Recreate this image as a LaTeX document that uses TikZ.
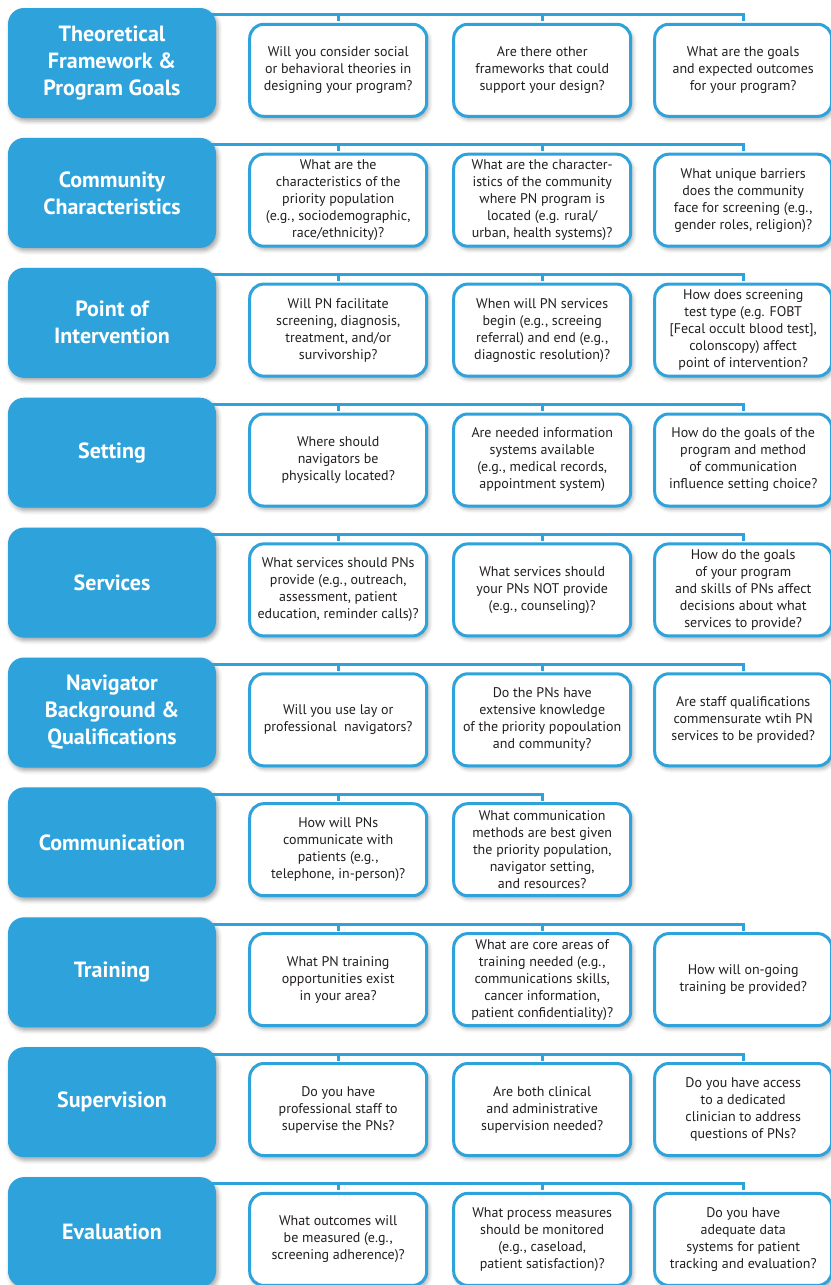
\documentclass[tikz,border=0pt]{standalone}
\usepackage{fontspec}
\setmainfont{PT Sans}
\usetikzlibrary{positioning,shadows.blur}
\definecolor{pnblue}{HTML}{2EA3DB}
\definecolor{pntext}{HTML}{231F20}

\begin{document}
\begin{tikzpicture}[x=1pt, y=-1pt,
        topic/.style={rectangle, rounded corners=16pt, fill=pnblue, text=white, minimum width=208pt, minimum height=110pt, align=center, inner sep=0pt, font=\fontsize{22}{27}\selectfont\bfseries, blur shadow={shadow xshift=2pt, shadow yshift=-3pt, shadow blur radius=4pt, shadow opacity=35}},
        question/.style={rectangle, rounded corners=14pt, draw=pnblue, line width=3pt, fill=white, text=pntext, minimum width=177pt, minimum height=92pt, align=center, inner sep=0pt, font=\fontsize{14}{17}\selectfont, blur shadow={shadow xshift=2pt, shadow yshift=-3pt, shadow blur radius=4pt, shadow opacity=35}},
        link/.style={draw=pnblue, line width=3pt}
        ]
            \useasboundingbox (0,0) rectangle (830,1285);

            % topics
            \node[topic] (t1) at (112,63) {Theoretical\\Framework \&\\Program Goals};
            \node[topic] (t2)  [below = 19.5pt of t1]  {Community\\Characteristics};
            \node[topic] (t3)  [below = 19.5pt of t2]  {Point of\\Intervention};
            \node[topic] (t4)  [below = 19.5pt of t3]  {Setting};
            \node[topic] (t5)  [below = 19.5pt of t4]  {Services};
            \node[topic] (t6)  [below = 19.5pt of t5]  {Navigator\\Background \&\\Qualifications};
            \node[topic] (t7)  [below = 19.5pt of t6]  {Communication};
            \node[topic] (t8)  [below = 19.5pt of t7]  {Training};
            \node[topic] (t9)  [below = 19.5pt of t8]  {Supervision};
            \node[topic] (t10) [below = 19.5pt of t9]  {Evaluation};

            % corner where each row of questions starts
            \foreach \r in {1,...,10} {
                \coordinate (q\r0) at ([xshift=32pt, yshift=-15pt]t\r.north east);
            }

            % theoretical framework
            \node[question] (q11) [below right = 0pt and 0pt of q10]  {Will you consider social\\or behavioral theories in\\designing your program?};
            \node[question] (q12) [right = 24pt of q11]  {Are there other\\frameworks that could\\support your design?};
            \node[question] (q13) [right = 21pt of q12]  {What are the goals\\and expected outcomes\\for your program?};
            % community
            \node[question] (q21) [below right = 0pt and 0pt of q20]  {What are the\\characteristics of the\\priority population\\(e.g., sociodemographic,\\race/ethnicity)?};
            \node[question] (q22) [right = 24pt of q21]  {What are the character-\\istics of the community\\where PN program is\\located (e.g. rural/\\urban, health systems)?};
            \node[question] (q23) [right = 21pt of q22]  {What unique barriers\\does the community\\face for screening (e.g.,\\gender roles, religion)?};
            % point of intervention
            \node[question] (q31) [below right = 0pt and 0pt of q30]  {Will PN facilitate\\screening, diagnosis,\\treatment, and/or\\survivorship?};
            \node[question] (q32) [right = 24pt of q31]  {When will PN services\\begin (e.g., screeing\\referral) and end (e.g.,\\diagnostic resolution)?};
            \node[question] (q33) [right = 21pt of q32]  {How does screening\\test type (e.g. FOBT\\{[Fecal occult blood test]},\\colonscopy) affect\\point of intervention?};
            % setting
            \node[question] (q41) [below right = 0pt and 0pt of q40]  {Where should\\navigators be\\physically located?};
            \node[question] (q42) [right = 24pt of q41]  {Are needed information\\systems available\\(e.g., medical records,\\appointment system)};
            \node[question] (q43) [right = 21pt of q42]  {How do the goals of the\\program and method\\of communication\\influence setting choice?};
            % services
            \node[question] (q51) [below right = 0pt and 0pt of q50]  {What services should PNs\\provide (e.g., outreach,\\assessment, patient\\education, reminder calls)?};
            \node[question] (q52) [right = 24pt of q51]  {What services should\\your PNs NOT provide\\(e.g., counseling)?};
            \node[question] (q53) [right = 21pt of q52]  {How do the goals\\of your program\\and skills of PNs affect\\decisions about what\\services to provide?};
            % navigator
            \node[question] (q61) [below right = 0pt and 0pt of q60]  {Will you use lay or\\professional~ navigators?};
            \node[question] (q62) [right = 24pt of q61]  {Do the PNs have\\extensive knowledge\\of the priority popoulation\\and community?};
            \node[question] (q63) [right = 21pt of q62]  {Are staff qualifications\\commensurate wtih PN\\services to be provided?};
            % communication
            \node[question] (q71) [below right = 0pt and 0pt of q70]  {How will PNs\\communicate with\\patients (e.g.,\\telephone, in-person)?};
            \node[question] (q72) [right = 24pt of q71]  {What communication\\methods are best given\\the priority population,\\navigator setting,\\and resources?};
            % training
            \node[question] (q81) [below right = 0pt and 0pt of q80]  {What PN training\\opportunities exist\\in your area?};
            \node[question] (q82) [right = 24pt of q81]  {What are core areas of\\training needed (e.g.,\\communications skills,\\cancer information,\\patient confidentiality)?};
            \node[question] (q83) [right = 21pt of q82]  {How will on-going\\training be provided?};
            % supervision
            \node[question] (q91) [below right = 0pt and 0pt of q90]  {Do you have\\professional staff to\\supervise the PNs?};
            \node[question] (q92) [right = 24pt of q91]  {Are both clinical\\and administrative\\supervision needed?};
            \node[question] (q93) [right = 21pt of q92]  {Do you have access\\to a dedicated\\clinician to address\\questions of PNs?};
            % evaluation
            \node[question] (q101) [below right = 0pt and 0pt of q100]  {What outcomes will\\be measured (e.g.,\\screening adherence)?};
            \node[question] (q102) [right = 24pt of q101]  {What process measures\\should be monitored\\(e.g., caseload,\\patient satisfaction)?};
            \node[question] (q103) [right = 21pt of q102]  {Do you have\\adequate data\\systems for patient\\tracking and evaluation?};

            % connectors
            \foreach \r in {1,...,6,8,9,10} {
                \draw[link] ([xshift=-12pt, yshift=-7pt]t\r.north east) -| ([yshift=1.5pt]q\r3.north);
                \draw[link] ([yshift=1.5pt]q\r1.north) -- ++(0pt,8pt);
                \draw[link] ([yshift=1.5pt]q\r2.north) -- ++(0pt,8pt);
            }
            \draw[link] ([xshift=-12pt, yshift=-7pt]t7.north east) -| ([yshift=1.5pt]q72.north);
            \draw[link] ([yshift=1.5pt]q71.north) -- ++(0pt,8pt);
        \end{tikzpicture}
\end{document}
